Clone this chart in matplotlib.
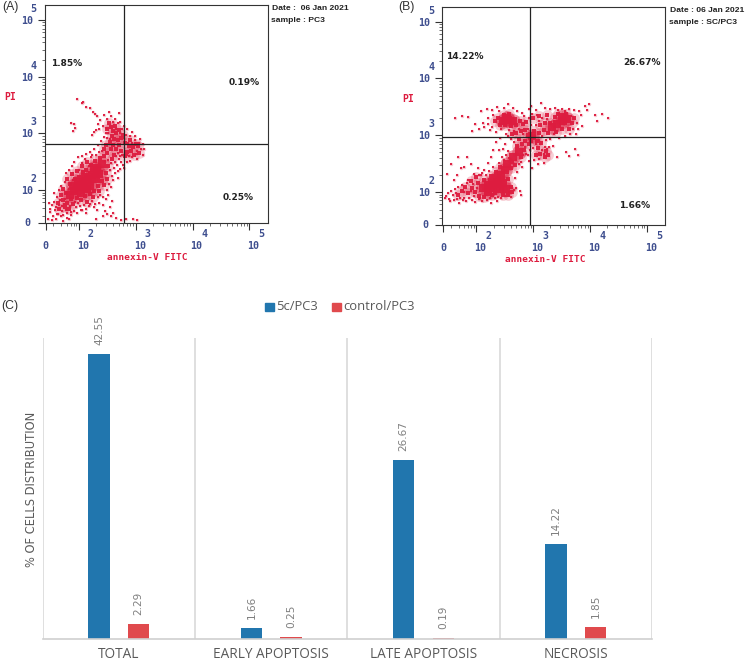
import matplotlib
matplotlib.use('Agg')
import numpy as np
import matplotlib.pyplot as plt

W, H = 745, 662
RED = '#dd1c3f'
NAVY = '#3f4f8f'

# flow cytometry points, read by eye, in decades (10^2 -> 2.0)
a_core = [(1.92,1.99),(2.0,2.05),(2.08,2.12),(2.16,2.2),(2.24,2.27),(2.32,2.36),(2.41,2.46),(1.98,2.14),
          (2.1,2.24),(2.2,2.08),(2.3,2.2),(2.04,1.96),(2.14,2.03),(2.26,2.4),(2.36,2.28),(1.85,1.92),(1.9,2.08)]
a_mid = [(1.72,1.83),(1.78,1.96),(1.8,1.78),(1.84,2.12),(1.87,1.85),(1.69,1.92),(1.94,2.2),(1.96,1.86),(2.01,2.24),
         (2.03,1.83),(2.07,2.32),(2.11,1.9),(2.13,2.36),(2.19,1.93),(2.22,2.45),(2.27,1.98),(2.29,2.52),(2.33,2.08),
         (2.37,2.56),(2.4,2.17),(2.44,2.6),(2.47,2.3),(2.5,2.66),(2.52,2.42),(2.56,2.72),(2.58,2.55),(2.45,2.73),
         (2.62,2.62),(2.6,2.8),(2.66,2.72),(2.71,2.8),(2.55,2.85),(2.48,2.8),(2.74,2.7),(2.5,3.08),(2.56,3.12),
         (2.6,3.04),(2.63,3.14),(2.53,3.18),(2.66,3.0),(2.58,2.95),(2.7,3.06),(2.62,2.9),(2.68,2.88),(2.75,2.92),
         (2.78,2.98),(2.82,2.84),(2.88,2.78),(2.92,2.7),(2.96,2.76),(2.85,2.68),(3.0,2.82),(3.04,2.78),(2.9,2.88),
         (2.97,2.62),(2.81,2.6),(3.06,2.66),(1.63,1.78),(1.75,1.7),(1.83,1.67),(1.66,1.68),(1.9,1.76),(2.15,1.8),
         (2.25,1.88),(2.35,1.98),(2.44,2.1),(2.5,2.2),(1.73,2.03),(1.8,2.2),(1.88,2.28),(1.97,2.34),(2.05,2.42),(2.14,2.5)]
a_sparse = [(1.46,1.5),(1.5,1.62),(1.52,1.74),(1.47,1.78),(1.55,1.55),(1.58,1.66),(1.6,1.5),(1.62,1.88),(1.56,1.95),
            (1.64,1.59),(1.68,1.54),(1.71,1.63),(1.74,1.76),(1.69,2.08),(1.75,2.14),(1.66,2.0),(1.78,2.3),(1.83,2.36),
            (1.88,2.42),(1.92,2.5),(1.79,1.6),(1.86,1.56),(1.92,1.64),(1.95,1.71),(2.02,1.72),(2.06,1.65),(2.12,1.6),
            (2.2,1.76),(2.26,1.7),(2.32,1.66),(2.36,1.78),(2.42,1.74),(2.47,1.85),(2.52,1.92),(2.46,1.63),(2.54,1.7),
            (2.58,1.82),(2.56,2.05),(2.6,2.18),(2.64,2.3),(2.67,2.44),(2.7,2.55),(2.74,2.5),(2.76,2.62),(2.72,2.38),
            (2.78,2.44),(1.98,2.58),(2.05,2.6),(2.12,2.64),(2.2,2.68),(2.27,2.72),(2.33,2.8),(2.39,2.86),(2.44,2.94),
            (2.47,3.0),(2.43,3.14),(2.5,3.25),(2.57,3.3),(2.63,3.26),(2.72,3.2),(2.79,3.14),(2.84,3.08),(2.93,3.02),
            (2.98,2.95),(3.08,2.9),(3.12,2.82),(3.15,2.72),(3.12,2.62),(3.02,2.55),(2.9,2.52),(2.84,2.5),(2.05,3.54),
            (2.08,3.56),(1.97,3.6),(2.12,3.47),(2.2,3.44),(2.25,3.38),(2.28,3.34),(2.32,3.3),(2.38,3.24),(1.92,3.16),
            (1.87,3.19),(1.94,3.1),(1.9,3.05),(2.27,3.02),(2.24,2.98),(2.33,3.16),(2.36,3.08),(2.3,3.06),(2.7,3.36),
            (2.53,3.38),(2.45,3.33),(2.79,2.4),(2.69,2.22),(2.6,1.6),(2.65,1.52),(1.72,1.46),(1.82,1.49),(2.42,1.55),
            (2.3,1.5),(2.56,1.54),(2.49,1.58),(2.75,1.48),(2.83,1.5),(2.95,1.5),(3.02,1.47),
            (1.49,1.68),(1.53,1.48),(1.57,1.8),(1.6,1.7),(1.61,1.58),(1.65,1.75),(1.67,1.83),(1.7,1.72),(1.73,1.57),
            (1.76,1.85),(1.77,1.65),(1.8,1.52),(1.82,2.02),(1.85,1.73),(1.87,1.62),(1.89,2.18),(1.93,1.8),(1.96,1.6),
            (1.99,1.78),(2.0,2.36),(2.03,1.66),(2.06,2.48),(2.09,1.75),(2.1,2.55),(2.13,1.68),(2.17,2.42),(2.18,1.72),
            (2.21,2.58),(2.23,1.82),(2.24,2.62),(2.28,1.76),(2.31,2.62),(2.34,1.88),(2.35,2.68),(2.38,1.92),(2.41,2.7),
            (2.43,1.88),(2.46,2.52),(2.49,2.0),(2.51,2.54),(2.53,2.12),(2.55,2.35),(2.57,2.48),(2.58,2.25),(2.61,2.4),
            (2.63,2.5),(2.65,2.6),(2.68,2.34),(2.69,2.65),(2.73,2.6),(2.5,2.92),(2.52,3.0),(2.54,2.9),(2.47,3.1),
            (2.6,3.2),(2.65,3.08),(2.68,3.18),(2.72,3.0),(2.76,3.08),(2.8,2.92),(2.83,2.98),(2.86,2.84),(2.9,2.95),
            (2.94,2.84),(2.98,2.88),(3.02,2.7),(3.05,2.84),(2.88,2.6),(2.93,2.58),(2.84,2.62),(3.0,2.64),(3.1,2.72)]

b_core = [(2.12,2.07),(2.2,2.12),(2.28,2.18),(2.36,2.25),(2.44,2.31),(2.38,2.14),(2.5,2.4),(2.3,2.08),(2.46,2.17),
          (2.2,2.01),(2.54,2.5),(2.42,2.06),(2.52,2.05),(2.64,2.62),(2.74,2.7),(2.56,3.27),(2.47,3.26),(2.64,3.25),
          (2.53,3.31),(3.52,3.25),(3.42,3.2),(3.6,3.28),(3.5,3.32),(3.32,3.14),(2.98,2.98)]
b_mid = [(1.85,1.98),(1.92,2.08),(1.98,2.0),(2.03,2.16),(2.05,1.94),(2.14,2.22),(2.13,1.92),(2.25,2.28),(2.27,1.95),
         (2.34,2.36),(2.33,1.98),(2.42,2.44),(2.55,2.24),(2.6,2.1),(2.62,2.0),(2.56,1.95),(2.46,1.96),(2.6,2.42),
         (2.62,2.54),(2.68,2.48),(2.78,2.62),(2.84,2.74),(2.72,2.82),(2.8,2.84),(2.86,2.9),(2.92,2.84),(2.96,2.9),
         (3.02,2.98),(3.06,2.9),(2.9,3.0),(3.02,3.08),(3.1,3.04),(3.18,3.1),(3.25,3.05),(3.3,3.22),(3.2,3.22),
         (3.12,3.18),(3.38,3.32),(3.44,3.38),(3.58,3.38),(3.68,3.22),(3.72,3.3),(3.62,3.12),(3.5,3.12),(3.4,3.06),
         (3.14,2.86),(3.08,2.78),(3.22,2.72),(3.26,2.66),(3.2,2.62),(3.12,2.68),(3.05,2.66),(2.32,3.25),(2.38,3.3),
         (2.42,3.18),(2.5,3.18),(2.6,3.16),(2.7,3.18),(2.76,3.26),(2.82,3.2),(2.85,3.1),(2.78,3.08),(2.7,3.04),
         (2.62,3.02),(2.74,2.94),(2.48,3.36),(2.58,3.38),(2.88,3.24),(3.0,3.3),(3.1,3.34),(3.24,3.36),(1.75,2.02),
         (1.68,1.96),(1.8,2.1),(1.9,2.2),(2.0,2.26)]
b_sparse = [(1.44,1.9),(1.5,1.98),(1.54,1.84),(1.58,1.96),(1.62,2.05),(1.66,1.88),(1.7,1.82),(1.74,2.12),(1.78,1.9),
            (1.82,1.84),(1.86,2.22),(1.92,1.86),(1.98,1.83),(2.04,1.88),(2.1,1.84),(2.18,1.86),(2.26,1.82),(2.36,1.85),
            (1.6,2.22),(1.66,2.3),(1.72,2.42),(1.78,2.45),(1.9,2.5),(1.96,2.32),(2.02,2.42),(2.08,2.3),(2.14,2.4),
            (2.2,2.52),(2.26,2.62),(2.3,2.75),(2.35,2.88),(2.4,2.74),(2.45,2.62),(2.5,2.85),(2.55,2.72),(2.6,2.94),
            (2.66,2.88),(2.42,2.95),(2.52,3.02),(2.34,3.06),(2.28,3.14),(2.2,3.2),(2.12,3.22),(2.05,3.12),(1.98,3.2),
            (1.92,3.08),(1.85,3.32),(1.75,3.34),(1.62,3.3),(2.08,3.42),(2.18,3.46),(2.28,3.44),(2.36,3.5),(2.48,3.48),
            (2.56,3.55),(2.65,3.48),(2.72,3.42),(2.8,3.4),(2.92,3.46),(2.96,3.52),(3.05,3.44),(3.14,3.56),(3.2,3.48),
            (3.3,3.46),(3.38,3.48),(3.5,3.46),(3.62,3.46),(3.72,3.45),(3.8,3.42),(3.84,3.35),(3.9,3.52),(3.95,3.44),
            (3.98,3.55),(3.86,3.16),(3.78,3.12),(3.75,3.02),(3.65,3.02),(3.55,2.98),(3.45,2.96),(3.3,2.94),(3.22,2.92),
            (3.35,2.82),(3.28,2.8),(3.18,2.52),(3.08,2.5),(2.98,2.42),(3.02,2.56),(2.92,2.55),(2.88,2.68),(2.8,2.45),
            (2.72,2.36),(2.68,2.25),(2.7,2.08),(2.76,2.02),(2.78,1.96),(3.42,2.62),(3.58,2.7),(3.62,2.64),(3.74,2.76),
            (3.78,2.66),(4.08,3.36),(4.12,3.26),(4.2,3.38),(4.32,3.3),(1.48,2.32),(1.56,2.5),(1.68,2.62),(1.84,2.62),
            (1.47,1.94),(1.52,1.88),(1.56,2.02),(1.6,1.86),(1.64,1.98),(1.68,2.1),(1.71,1.9),(1.76,1.86),(1.79,2.0),
            (1.83,2.16),(1.87,1.9),(1.9,2.02),(1.94,2.14),(1.96,1.94),(2.01,2.08),(2.04,2.3),(2.07,1.9),(2.1,2.34),
            (2.16,1.96),(2.17,2.3),(2.22,2.38),(2.24,1.9),(2.3,2.45),(2.32,1.9),(2.38,1.92),(2.4,2.52),(2.44,1.9),
            (2.48,2.56),(2.5,1.94),(2.57,2.0),(2.6,1.92),(2.66,2.04),(2.58,2.6),(2.52,2.66),(2.46,2.76),(2.7,2.56),
            (2.74,2.5),(2.78,2.54),(2.82,2.66),(2.86,2.8),(2.9,2.66),(2.94,2.74),(3.0,2.78),(3.04,2.84),(3.1,2.92),
            (3.16,2.98),(3.2,2.8),(3.15,2.74),(3.1,2.58),(3.18,2.68),(3.24,2.76),(2.56,2.98),(2.66,3.08),(2.58,3.1),
            (2.74,3.12),(2.82,3.02),(2.9,3.12),(2.96,3.18),(3.04,3.18),(3.1,3.26),(3.16,3.3),(3.24,3.28),(3.28,3.12),
            (3.36,3.02),(3.44,3.44),(3.56,3.42),(3.66,3.34),(3.76,3.22),(3.7,3.12),(2.4,3.42),(2.44,3.12),(2.3,3.36),
            (2.2,3.3),(2.14,3.14),(2.24,3.1),(2.92,3.3),(2.98,3.38),(3.06,3.36),(2.84,3.34)]

# bar chart
categories = ['TOTAL', 'EARLY APOPTOSIS', 'LATE APOPTOSIS', 'NECROSIS']
treated = [42.55, 1.66, 26.67, 14.22]
control = [2.29, 0.25, 0.19, 1.85]

# flow axis ticks
major_ticks = [2, 3, 4, 5]
low_ticks = [1.55, 1.69, 1.79, 1.86, 1.91, 1.95]
zero_pos = 1.42


def px_axes(fig, left, top, right, bottom):
    return fig.add_axes([left / W, 1 - bottom / H, (right - left) / W, (bottom - top) / H])


def px_text(fig, x, y, s, **kw):
    return fig.text(x / W, 1 - y / H, s, **kw)


def draw_flow(fig, box, xgate, ygate, core, mid, sparse, pcts):
    ax = px_axes(fig, *box)
    ax.set_xlim(1.40, 5.32)
    ax.set_ylim(1.43, 5.26)
    # soft layers first so the clouds read as dense speckle rather than separate dots
    ax.scatter(*zip(*mid), s=60, c=RED, linewidths=0, alpha=0.22, zorder=1)
    ax.scatter(*zip(*sparse), s=6, c=RED, linewidths=0, alpha=0.25, zorder=1)
    ax.scatter(*zip(*core), s=110, c=RED, linewidths=0, alpha=0.45, zorder=1)
    for pts, s in ((core, 30), (mid, 5), (sparse, 1.6)):
        ax.scatter(*zip(*pts), s=s, c=RED, marker='s', linewidths=0, alpha=0.95, zorder=2)
    ax.axvline(xgate, color='#222222', lw=0.9, zorder=3)
    ax.axhline(ygate, color='#222222', lw=0.9, zorder=3)

    minor = list(low_ticks)
    for d in (2, 3, 4):
        minor += [d + np.log10(m) for m in range(2, 10)]
    for axis in (ax.xaxis, ax.yaxis):
        axis.set_ticks([zero_pos] + major_ticks)
        axis.set_ticks(minor, minor=True)
        axis.set_ticklabels([])
    ax.tick_params(which='major', length=5, width=0.8, color='#333333')
    ax.tick_params(which='minor', length=2.5, width=0.6, color='#555555')
    for sp in ax.spines.values():
        sp.set_linewidth(0.8)
        sp.set_color('#333333')

    lab = dict(color=NAVY, family='DejaVu Sans Mono', weight='bold', fontsize=7.2,
               ha='center', va='center', textcoords='offset pixels', annotation_clip=False)
    xt = ax.get_xaxis_transform()
    yt = ax.get_yaxis_transform()
    ax.annotate('0', (zero_pos, 0), (0, -23), xycoords=xt, **lab)
    ax.annotate('0', (0, zero_pos), (-17, 0), xycoords=yt, **lab)
    for d in major_ticks:
        ax.annotate('10', (d, 0), (4, -23), xycoords=xt, **lab)
        ax.annotate(str(d), (d, 0), (12, -11), xycoords=xt, **lab)
        ax.annotate('10', (0, d), (-18, -1), xycoords=yt, **lab)
        ax.annotate(str(d), (0, d), (-11, 11), xycoords=yt, **lab)
    for x, y, s in pcts:
        px_text(fig, x, y, s, fontsize=6.5, weight='bold', color='#222222', ha='center', va='center')
    return ax


fig = plt.figure(figsize=(W / 100, H / 100), dpi=100)

draw_flow(fig, (44.7, 5, 267.7, 223.3), 2.80, 2.82, a_core, a_mid, a_sparse,
          [(66.7, 64, '1.85%'), (244, 82.7, '0.19%'), (238, 197.7, '0.25%')])
draw_flow(fig, (442.3, 6.7, 665.3, 225.3), 2.94, 2.97, b_core, b_mid, b_sparse,
          [(465, 56.7, '14.22%'), (642, 62.3, '26.67%'), (635, 206, '1.66%')])

mono = dict(family='DejaVu Sans Mono', weight='bold', color=RED, ha='center', va='center')
px_text(fig, 10, 97, 'PI', fontsize=7, **mono)
px_text(fig, 408, 98.7, 'PI', fontsize=7, **mono)
px_text(fig, 147.7, 258, 'annexin-V FITC', fontsize=6.8, **mono)
px_text(fig, 545.3, 259.7, 'annexin-V FITC', fontsize=6.8, **mono)

side = dict(fontsize=6.1, weight='bold', color='#222222', family='Liberation Sans', ha='left', va='center')
px_text(fig, 272, 9, 'Date :  06 Jan 2021', **side)
px_text(fig, 271, 20, 'sample : PC3', **side)
px_text(fig, 669.7, 10.7, 'Date : 06 Jan 2021', **side)
px_text(fig, 669, 22, 'sample : SC/PC3', **side)

panel = dict(fontsize=8.8, color='#333333', family='Liberation Sans', ha='left', va='center')
px_text(fig, 2, 7, '(A)', **panel)
px_text(fig, 398, 7, '(B)', **panel)
px_text(fig, 1, 306, '(C)', **panel)

# bar panel
ax = px_axes(fig, 42.8, 337.7, 651.8, 639)
x = np.arange(len(categories))
bw = 0.14
ax.bar(x - 0.13, treated, bw, color='#2176ae')
ax.bar(x + 0.13, control, bw, color='#e04a4d')
ax.set_xlim(-0.5, 3.5)
ax.set_ylim(0, 45)
for i in range(len(categories) + 1):
    ax.axvline(i - 0.5, color='#d9d9d9', lw=1.2, zorder=0)
for sp in ('top', 'left', 'right'):
    ax.spines[sp].set_visible(False)
ax.spines['bottom'].set_color('#d0d0d0')
ax.spines['bottom'].set_linewidth(1.2)
ax.set_yticks([])
ax.set_xticks(x)
ax.set_xticklabels(categories, fontsize=9.8, color='#595959', family='Open Sans')
ax.tick_params(axis='x', length=0, pad=6)
for vals, off in ((treated, -0.13), (control, 0.13)):
    for xi, v in zip(x, vals):
        ax.annotate(f'{v:.2f}', (xi + off, v), (0, 9), textcoords='offset pixels', rotation=90,
                    ha='center', va='bottom', fontsize=7.6, color='#7f7f7f')
px_text(fig, 32, 489, '% OF CELLS DISTRIBUTION', rotation=90, fontsize=8.3, color='#595959',
        ha='center', va='center')

# legend drawn by hand to sit above the plot like the original
for lx, c, s in ((265, '#2176ae', '5c/PC3'), (332, '#e04a4d', 'control/PC3')):
    fig.patches.append(plt.Rectangle((lx / W, 1 - 311 / H), 8.5 / W, 8 / H, color=c,
                                     transform=fig.transFigure))
    px_text(fig, lx + 11, 306.5, s, fontsize=9.4, color='#595959', family='Open Sans',
            ha='left', va='center')

fig.savefig('out.png', dpi=100)
